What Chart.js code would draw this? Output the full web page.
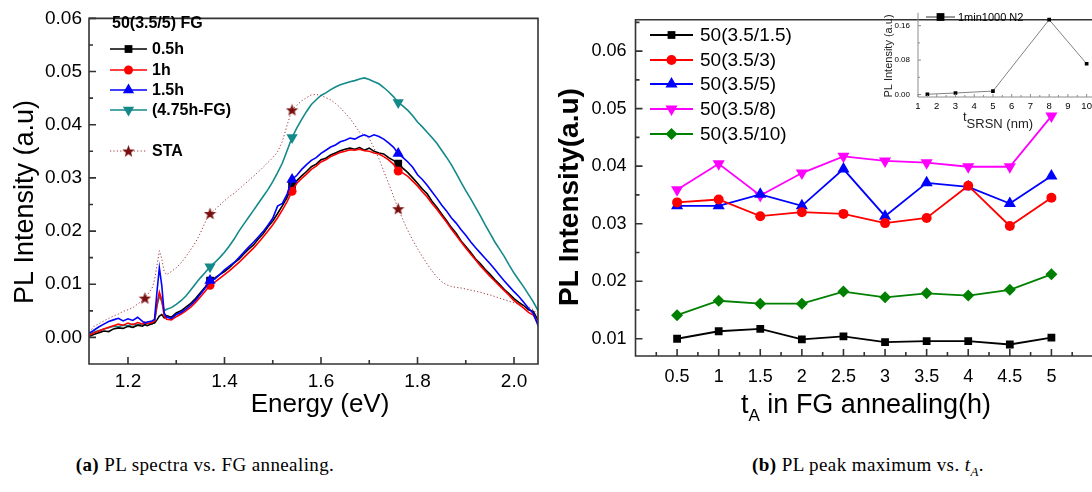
<!DOCTYPE html>
<html>
<head>
<meta charset="utf-8">
<script src="https://cdn.jsdelivr.net/npm/chart.js"></script>
<style>
  body { margin: 0; width: 1092px; height: 492px; overflow: hidden; background: #fff; position: relative; }
  canvas { position: absolute; top: 0; }
  .cap { position: absolute; top: 454px; transform: translateX(-50%); font-family: "Liberation Serif", "DejaVu Serif", serif; font-size: 19px; letter-spacing: 0.4px; color: #000; white-space: nowrap; }
  .cap .sub { font-size: 13px; position: relative; top: 5px; }
</style>
</head>
<body>
<canvas id="spec" width="560" height="440" style="left:0"></canvas>
<canvas id="peak" width="560" height="440" style="left:540px"></canvas>
<canvas id="inset" width="250" height="135" style="left:850px"></canvas>
<div class="cap" style="left:205px"><b>(a)</b> PL spectra vs. FG annealing.</div>
<div class="cap" style="left:868px"><b>(b)</b> PL peak maximum vs. <i>t</i><span class="sub"><i>A</i></span>.</div>
<script>
// (a) PL spectra vs. photon energy (eV)
const energy = [1.12,1.13,1.14,1.15,1.16,1.17,1.18,1.19,1.20,1.21,1.22,1.23,1.235,1.24,1.25,1.255,1.26,1.265,1.27,1.275,1.28,
  1.29,1.30,1.31,1.32,1.33,1.34,1.35,1.36,1.37,1.38,1.39,1.40,1.41,1.42,1.43,1.44,1.45,1.46,1.47,1.48,1.49,1.50,
  1.51,1.52,1.53,1.54,1.55,1.56,1.57,1.58,1.59,1.60,1.61,1.62,1.63,1.64,1.65,1.66,1.67,1.68,1.69,1.70,1.71,1.72,
  1.73,1.74,1.75,1.76,1.77,1.78,1.79,1.80,1.81,1.82,1.83,1.84,1.85,1.86,1.87,1.88,1.89,1.90,1.91,1.92,1.93,1.94,
  1.95,1.96,1.97,1.98,1.99,2.00,2.01,2.02,2.03,2.04,2.05];
const pl05h = [0.0002,0.0006,0.0009,0.0012,0.0011,0.0016,0.0018,0.0017,0.0021,0.0019,
  0.0023,0.0021,0.0024,0.0022,0.0026,0.0027,0.0033,0.0040,0.0043,0.0037,
  0.0041,0.0038,0.0046,0.0050,0.0057,0.0064,0.0073,0.0084,0.0095,0.0107,
  0.0112,0.0118,0.0124,0.0131,0.0140,0.0147,0.0157,0.0166,0.0174,0.0185,
  0.0195,0.0208,0.0219,0.0233,0.0248,0.0264,0.0287,0.0295,0.0304,0.0312,
  0.0321,0.0326,0.0334,0.0337,0.0343,0.0347,0.0351,0.0354,0.0356,0.0354,
  0.0357,0.0352,0.0356,0.0350,0.0347,0.0345,0.0338,0.0333,0.0327,0.0318,
  0.0310,0.0300,0.0290,0.0279,0.0270,0.0256,0.0245,0.0232,0.0220,0.0207,
  0.0196,0.0182,0.0171,0.0160,0.0148,0.0139,0.0128,0.0119,0.0109,0.0100,
  0.0090,0.0082,0.0073,0.0066,0.0060,0.0052,0.0049,0.0032];
const pl1h = [0.0004,0.0009,0.0012,0.0016,0.0019,0.0022,0.0025,0.0023,0.0027,0.0024,
  0.0028,0.0025,0.0029,0.0026,0.0028,0.0031,0.0062,0.0085,0.0071,0.0040,
  0.0034,0.0033,0.0039,0.0044,0.0050,0.0057,0.0066,0.0076,0.0087,0.0098,
  0.0104,0.0111,0.0118,0.0125,0.0133,0.0141,0.0150,0.0159,0.0168,0.0178,
  0.0189,0.0200,0.0212,0.0225,0.0240,0.0256,0.0275,0.0290,0.0299,0.0307,
  0.0316,0.0322,0.0330,0.0334,0.0340,0.0344,0.0348,0.0350,0.0353,0.0352,
  0.0354,0.0351,0.0350,0.0347,0.0345,0.0340,0.0334,0.0326,0.0313,0.0309,
  0.0303,0.0294,0.0285,0.0274,0.0264,0.0252,0.0241,0.0229,0.0217,0.0204,
  0.0192,0.0180,0.0168,0.0157,0.0146,0.0135,0.0125,0.0115,0.0106,0.0097,
  0.0088,0.0079,0.0069,0.0062,0.0055,0.0047,0.0042,0.0026];
const pl15h = [0.0008,0.0014,0.0020,0.0025,0.0030,0.0033,0.0036,0.0031,0.0035,0.0032,
  0.0038,0.0030,0.0027,0.0029,0.0031,0.0034,0.0085,0.0131,0.0098,0.0046,
  0.0038,0.0036,0.0043,0.0047,0.0053,0.0061,0.0070,0.0081,0.0093,0.0107,
  0.0110,0.0118,0.0127,0.0134,0.0141,0.0150,0.0160,0.0170,0.0179,0.0189,
  0.0199,0.0211,0.0224,0.0247,0.0252,0.0270,0.0297,0.0305,0.0316,0.0325,
  0.0333,0.0338,0.0346,0.0352,0.0358,0.0362,0.0368,0.0371,0.0375,0.0373,
  0.0378,0.0381,0.0377,0.0381,0.0378,0.0373,0.0366,0.0358,0.0346,0.0338,
  0.0330,0.0320,0.0306,0.0297,0.0286,0.0274,0.0262,0.0249,0.0238,0.0225,
  0.0215,0.0203,0.0192,0.0180,0.0169,0.0159,0.0149,0.0139,0.0128,0.0117,
  0.0106,0.0096,0.0086,0.0077,0.0066,0.0055,0.0045,0.0022];
const pl475h = [0.0006,0.0010,0.0013,0.0016,0.0018,0.0021,0.0020,0.0023,0.0022,0.0025,
  0.0023,0.0026,0.0024,0.0027,0.0025,0.0029,0.0058,0.0078,0.0067,0.0050,
  0.0053,0.0056,0.0062,0.0069,0.0078,0.0089,0.0101,0.0112,0.0122,0.0133,
  0.0141,0.0150,0.0160,0.0172,0.0185,0.0200,0.0213,0.0226,0.0239,0.0252,
  0.0265,0.0278,0.0293,0.0310,0.0328,0.0352,0.0376,0.0394,0.0410,0.0425,
  0.0438,0.0447,0.0455,0.0460,0.0466,0.0471,0.0475,0.0478,0.0481,0.0483,
  0.0486,0.0488,0.0485,0.0481,0.0477,0.0470,0.0462,0.0453,0.0442,0.0435,
  0.0427,0.0417,0.0405,0.0396,0.0386,0.0376,0.0365,0.0352,0.0339,0.0325,
  0.0309,0.0292,0.0276,0.0261,0.0245,0.0229,0.0212,0.0196,0.0180,0.0166,
  0.0152,0.0136,0.0121,0.0108,0.0095,0.0081,0.0067,0.0050];
const plSTA = [0.0010,0.0021,0.0026,0.0031,0.0036,0.0040,0.0044,0.0049,0.0052,0.0056,
  0.0063,0.0069,0.0074,0.0080,0.0093,0.0108,0.0135,0.0163,0.0148,0.0124,
  0.0118,0.0124,0.0131,0.0140,0.0152,0.0165,0.0179,0.0196,0.0217,0.0233,
  0.0240,0.0249,0.0257,0.0265,0.0271,0.0279,0.0287,0.0295,0.0303,0.0311,
  0.0320,0.0329,0.0338,0.0349,0.0369,0.0400,0.0428,0.0437,0.0445,0.0451,
  0.0456,0.0457,0.0455,0.0451,0.0447,0.0440,0.0432,0.0422,0.0412,0.0399,
  0.0386,0.0380,0.0374,0.0356,0.0336,0.0313,0.0290,0.0266,0.0242,0.0221,
  0.0201,0.0183,0.0167,0.0152,0.0138,0.0125,0.0114,0.0105,0.0099,0.0096,
  0.0094,0.0093,0.0091,0.0089,0.0087,0.0085,0.0082,0.0080,0.0077,0.0074,
  0.0071,0.0068,0.0065,0.0062,0.0060,0.0058,0.0052,0.0042];
const markE = [1.37, 1.54, 1.76];          // where Origin put the symbols
const markSTA = [1.235, 1.37, 1.54, 1.76];
const specXTicks = [1.2, 1.4, 1.6, 1.8, 2.0];
const specYTicks = [0, 0.01, 0.02, 0.03, 0.04, 0.05, 0.06];

// (b) PL peak maximum vs annealing time tA (h)
const tA = [0.5, 1, 1.5, 2, 2.5, 3, 3.5, 4, 4.5, 5];
const peak15 = [0.0100,0.0113,0.0117,0.0099,0.0104,0.0094,0.0096,0.0096,0.0090,0.0102];
const peak3  = [0.0337,0.0342,0.0313,0.0320,0.0317,0.0301,0.0310,0.0366,0.0296,0.0345];
const peak5  = [0.0331,0.0331,0.0351,0.0331,0.0395,0.0313,0.0371,0.0364,0.0335,0.0383];
const peak8  = [0.0359,0.0404,0.0349,0.0388,0.0417,0.0409,0.0406,0.0399,0.0399,0.0487];
const peak10 = [0.0141,0.0166,0.0161,0.0161,0.0182,0.0172,0.0179,0.0175,0.0185,0.0212];
const peakXTicks = [0.5, 1, 1.5, 2, 2.5, 3, 3.5, 4, 4.5, 5];
const peakYTicks = [0.01, 0.02, 0.03, 0.04, 0.05, 0.06];

// inset: PL vs tSRSN (nm)
const tSRSN = [1.5, 3, 5, 8, 10];
const plN2 = [0.0006, 0.0035, 0.008, 0.174, 0.0715];
const insetXTicks = [1, 2, 3, 4, 5, 6, 7, 8, 9, 10];
const insetYTicks = [0, 0.08, 0.16];

const SANS = '"Liberation Sans", Arial, sans-serif';
const TEAL = '#13898a';
const STAC = '#8a1c1c';

function starImg(size, color) {
  const c = document.createElement('canvas');
  c.width = c.height = size;
  const g = c.getContext('2d');
  g.fillStyle = color;
  g.beginPath();
  for (let i = 0; i < 10; i++) {
    const r = i % 2 ? size * 0.21 : size * 0.5;
    const a = -Math.PI / 2 + i * Math.PI / 5;
    g.lineTo(size / 2 + r * Math.cos(a), size / 2 + 0.6 + r * Math.sin(a));
  }
  g.closePath();
  g.fill();
  return c;
}
const STAR = starImg(13, '#7a0f0f');

// legend symbols, same shapes as chart.js point styles
function mark(ctx, style, x, y, r, color) {
  ctx.save();
  ctx.fillStyle = color;
  ctx.beginPath();
  if (style === 'rect') {
    const s = r * Math.SQRT1_2;
    ctx.rect(x - s, y - s, 2 * s, 2 * s);
  } else if (style === 'circle') {
    ctx.arc(x, y, r, 0, Math.PI * 2);
  } else if (style === 'triangle' || style === 'down') {
    const k = style === 'down' ? -1 : 1;
    ctx.moveTo(x, y - k * r);
    ctx.lineTo(x + r * 0.866, y + k * r * 0.5);
    ctx.lineTo(x - r * 0.866, y + k * r * 0.5);
    ctx.closePath();
  } else if (style === 'rectRot') {
    ctx.moveTo(x, y - r); ctx.lineTo(x + r, y); ctx.lineTo(x, y + r); ctx.lineTo(x - r, y);
    ctx.closePath();
  } else if (style === 'star') {
    ctx.drawImage(STAR, x - STAR.width / 2, y - STAR.height / 2);
  }
  ctx.fill();
  ctx.restore();
}

function legendRow(ctx, x0, x1, y, ds, style, r, textX, font) {
  ctx.save();
  ctx.strokeStyle = ds.borderColor;
  ctx.lineWidth = ds.borderWidth;
  ctx.setLineDash(ds.borderDash || []);
  ctx.beginPath(); ctx.moveTo(x0, y); ctx.lineTo(x1, y); ctx.stroke();
  ctx.restore();
  mark(ctx, style, (x0 + x1) / 2, y, r, ds.pointBackgroundColor);
  ctx.save();
  ctx.font = font; ctx.fillStyle = '#000'; ctx.textBaseline = 'middle';
  ctx.fillText(ds.label, textX, y + 1);
  ctx.restore();
}

// frame + inward ticks + titles/legends
const decor = {
  id: 'decor',
  afterDraw(chart, args, o) {
    const { ctx, chartArea: a, scales: { x, y } } = chart;
    ctx.save();
    ctx.strokeStyle = o.color;
    ctx.lineWidth = o.width;
    ctx.beginPath();
    if (o.box) {
      ctx.rect(a.left, a.top, a.right - a.left, a.bottom - a.top);
    } else {
      ctx.moveTo(a.left, a.top); ctx.lineTo(a.left, a.bottom); ctx.lineTo(a.right + 2, a.bottom);
    }
    ctx.stroke();
    ctx.beginPath();
    const xt = x.ticks.map(t => t.value), yt = y.ticks.map(t => t.value);
    xt.forEach(v => { const p = x.getPixelForValue(v); ctx.moveTo(p, a.bottom); ctx.lineTo(p, a.bottom - o.major); });
    yt.forEach(v => { const p = y.getPixelForValue(v); ctx.moveTo(a.left, p); ctx.lineTo(a.left + o.major, p); });
    if (o.minor) {
      const dx = xt[1] - xt[0], dy = yt[1] - yt[0];
      for (let v = xt[0] - dx / 2; v <= x.max; v += dx) {
        if (v <= x.min) continue;
        const p = x.getPixelForValue(v); ctx.moveTo(p, a.bottom); ctx.lineTo(p, a.bottom - o.minor);
      }
      for (let v = yt[0] - dy / 2; v <= y.max; v += dy) {
        if (v <= y.min) continue;
        const p = y.getPixelForValue(v); ctx.moveTo(a.left, p); ctx.lineTo(a.left + o.minor, p);
      }
    }
    ctx.stroke();
    ctx.restore();
    if (o.extra) o.extra(ctx, chart);
  }
};
Chart.register(decor);

function pts(xs, ys) { return xs.map((v, i) => ({ x: v, y: ys[i] })); }

function scaleX(min, max, ticks, fmt, size, pad, h) {
  return {
    type: 'linear', min, max,
    afterBuildTicks: s => { s.ticks = ticks.map(v => ({ value: v })); },
    afterFit: s => { s.height = h; },
    ticks: { callback: fmt, font: { family: SANS, size }, color: '#000', padding: pad, maxRotation: 0, autoSkip: false },
    grid: { display: false, drawTicks: false }, border: { display: false }
  };
}
function scaleY(min, max, ticks, fmt, size, pad, w) {
  return {
    type: 'linear', min, max,
    afterBuildTicks: s => { s.ticks = ticks.map(v => ({ value: v })); },
    afterFit: s => { s.width = w; },
    ticks: { callback: fmt, font: { family: SANS, size }, color: '#000', padding: pad, autoSkip: false },
    grid: { display: false, drawTicks: false }, border: { display: false }
  };
}

// ---------- (a) ----------
function specSet(label, ys, color, style, r, order, extra) {
  const marks = style === STAR ? markSTA : markE;
  return Object.assign({
    label, data: pts(energy, ys), showLine: true, borderColor: color, borderWidth: 1.6,
    pointStyle: style, pointBackgroundColor: color, pointBorderColor: color, pointBorderWidth: 0,
    pointRadius: c => marks.includes(c.raw && c.raw.x) ? r : 0, pointHoverRadius: 0, order
  }, extra || {});
}
const specDs = [
  specSet('0.5h', pl05h, '#000000', 'rect', 5.5, 2),
  specSet('1h', pl1h, '#ff0000', 'circle', 4.5, 1),
  specSet('1.5h', pl15h, '#0000ff', 'triangle', 6.5, 0),
  specSet('(4.75h-FG)', pl475h, TEAL, 'triangle', 6.5, 3, { pointRotation: 180 }),
  specSet('STA', plSTA, STAC, STAR, 6, 4, { borderWidth: 1, borderDash: [1.2, 2.2], borderColor: '#a0393c', pointBackgroundColor: '#7a0f0f' })
];
new Chart(document.getElementById('spec'), {
  type: 'scatter',
  data: { datasets: specDs },
  options: {
    responsive: false, animation: false, devicePixelRatio: 1,
    layout: { padding: { left: 0, right: 22, top: 10.6, bottom: 0 } },
    scales: {
      x: scaleX(1.1192, 2.0497, specXTicks, v => v.toFixed(1), 19, 6, 76),
      y: scaleY(-0.005, 0.06, specYTicks, v => v.toFixed(2), 19, 7, 89)
    },
    plugins: {
      legend: { display: false }, tooltip: { enabled: false },
      decor: {
        box: true, color: '#333', width: 1.6, major: 7, minor: 4,
        extra(ctx, chart) {
          ctx.save();
          ctx.fillStyle = '#000';
          ctx.font = '26px ' + SANS;
          ctx.textAlign = 'center';
          ctx.fillText('Energy (eV)', 320, 412);
          ctx.translate(33, 202);
          ctx.rotate(-Math.PI / 2);
          ctx.font = '27px ' + SANS;
          ctx.fillText('PL Intensity (a.u)', 0, 0);
          ctx.restore();
          ctx.save();
          ctx.font = 'bold 16px ' + SANS;
          ctx.textBaseline = 'middle';
          ctx.fillText('50(3.5/5) FG', 112, 24);
          ctx.restore();
          const ds = chart.data.datasets;
          const styles = ['rect', 'circle', 'triangle', 'down', 'star'];
          const sizes = [5.5, 4.5, 6.5, 6.5, 6];
          const rows = [49, 70, 90, 110, 151];
          ds.forEach((d, i) => legendRow(ctx, 110, 147, rows[i], d, styles[i], sizes[i], 152, 'bold 16px ' + SANS));
        }
      }
    }
  }
});

// ---------- (b) ----------
function peakSet(label, ys, color, style, r, extra) {
  return Object.assign({
    label, data: pts(tA, ys), showLine: true, borderColor: color, borderWidth: 1.8,
    pointStyle: style, pointRadius: r, pointBackgroundColor: color, pointBorderColor: color,
    pointBorderWidth: 0, pointHoverRadius: r
  }, extra || {});
}
const peakDs = [
  peakSet('50(3.5/1.5)', peak15, '#000000', 'rect', 5.5),
  peakSet('50(3.5/3)', peak3, '#ff0000', 'circle', 5),
  peakSet('50(3.5/5)', peak5, '#0000ff', 'triangle', 7),
  peakSet('50(3.5/8)', peak8, '#ff00ff', 'triangle', 7, { pointRotation: 180 }),
  peakSet('50(3.5/10)', peak10, '#008000', 'rectRot', 6)
];
new Chart(document.getElementById('peak'), {
  type: 'scatter',
  data: { datasets: peakDs },
  options: {
    responsive: false, animation: false, devicePixelRatio: 1,
    layout: { padding: { left: 0, right: 2.5, top: 5, bottom: 0 } },
    scales: {
      x: scaleX(0, 5.5, peakXTicks, v => String(v), 18, 10, 84),
      y: scaleY(0.0070, 0.06544, peakYTicks, v => v.toFixed(2), 18, 9, 95.5)
    },
    plugins: {
      legend: { display: false }, tooltip: { enabled: false },
      decor: {
        box: true, color: '#333', width: 1.6, major: 7, minor: 4,
        extra(ctx, chart) {
          ctx.save();
          ctx.fillStyle = '#000';
          const cx = 866 - 540, base = 413;
          ctx.font = '27px ' + SANS;
          const w1 = ctx.measureText('t').width, w3 = ctx.measureText(' in FG annealing(h)').width;
          ctx.font = '17px ' + SANS;
          const w2 = ctx.measureText('A').width;
          let x0 = cx - (w1 + w2 + w3) / 2;
          ctx.font = '27px ' + SANS; ctx.fillText('t', x0, base);
          ctx.font = '17px ' + SANS; ctx.fillText('A', x0 + w1, base + 8);
          ctx.font = '27px ' + SANS; ctx.fillText(' in FG annealing(h)', x0 + w1 + w2, base);
          ctx.translate(578 - 540, 197);
          ctx.rotate(-Math.PI / 2);
          ctx.textAlign = 'center';
          ctx.font = 'bold 28px ' + SANS;
          ctx.fillText('PL Intensity(a.u)', 0, 0);
          ctx.restore();
          const ds = chart.data.datasets;
          const styles = ['rect', 'circle', 'triangle', 'down', 'rectRot'];
          const sizes = [5.5, 5, 7, 7, 6];
          const rows = [35, 60, 84, 109, 134];
          ds.forEach((d, i) => legendRow(ctx, 110, 153, rows[i], d, styles[i], sizes[i], 160, '19px ' + SANS));
        }
      }
    }
  }
});

// ---------- inset ----------
new Chart(document.getElementById('inset'), {
  type: 'scatter',
  data: { datasets: [{
    label: '1min1000 N2', data: pts(tSRSN, plN2), showLine: true, borderColor: '#808080', borderWidth: 1,
    pointStyle: 'rect', pointRadius: 2.6, pointBackgroundColor: '#000', pointBorderColor: '#000', pointBorderWidth: 0
  }] },
  options: {
    responsive: false, animation: false, devicePixelRatio: 1,
    layout: { padding: { left: 0, right: 1.5, top: 5, bottom: 0 } },
    scales: {
      x: scaleX(1, 10.5, insetXTicks, v => String(v), 9.5, 4, 38),
      y: scaleY(-0.0058, 0.19, insetYTicks, v => v.toFixed(2), 8, 8, 68)
    },
    plugins: {
      legend: { display: false }, tooltip: { enabled: false },
      decor: {
        box: false, color: '#8c8c8c', width: 1, major: 3, minor: 2,
        extra(ctx, chart) {
          ctx.save();
          ctx.fillStyle = '#222';
          ctx.font = '13px ' + SANS;
          ctx.fillText('t', 113, 121);
          ctx.fillText('SRSN (nm)', 113 + ctx.measureText('t').width, 128);
          ctx.translate(892 - 850, 56);
          ctx.rotate(-Math.PI / 2);
          ctx.textAlign = 'center';
          ctx.font = '11px ' + SANS;
          ctx.fillText('PL Intensity (a.u)', 0, 0);
          ctx.restore();
          const d = chart.data.datasets[0];
          legendRow(ctx, 76, 105, 17, Object.assign({}, d, { borderColor: '#333', pointBackgroundColor: '#000' }), 'rect', 5.5, 108, '11px ' + SANS);
        }
      }
    }
  }
});
</script>
</body>
</html>
